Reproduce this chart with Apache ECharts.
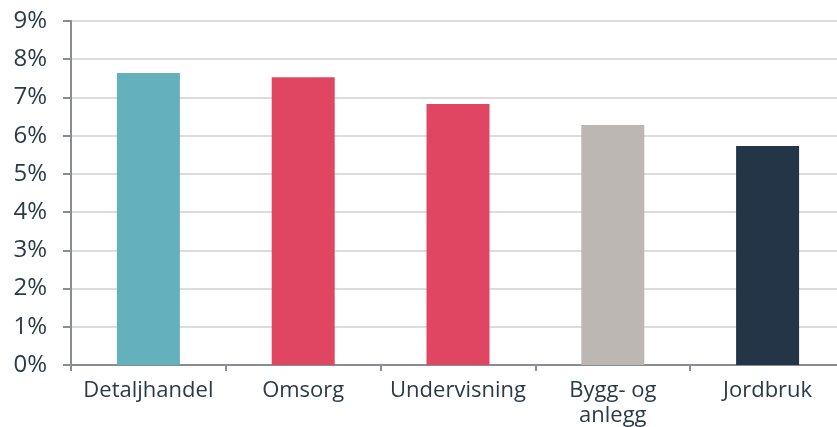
<!DOCTYPE html>
<html><head><meta charset="utf-8">
<script src="https://cdn.jsdelivr.net/npm/echarts@6/dist/echarts.min.js"></script>
<style>html,body{margin:0;padding:0;background:#fff}#c{width:837px;height:427px}</style>
</head><body><div id="c"></div>
<script>
const categories = ['Detaljhandel', 'Omsorg', 'Undervisning', 'Bygg- og\nanlegg', 'Jordbruk'];
const values = [7.64, 7.53, 6.83, 6.28, 5.73];
const colors = ['#64b0bc', '#e04661', '#e04661', '#bcb7b3', '#243547'];
const yTicks = [0, 1, 2, 3, 4, 5, 6, 7, 8, 9];

const chart = echarts.init(document.getElementById('c'));
chart.setOption({
  animation: false,
  grid: { left: 71, right: -8, top: 21, bottom: 62, containLabel: false, outerBoundsMode: 'none' },
  xAxis: {
    type: 'category', data: categories,
    axisLine: { lineStyle: { color: '#8a8d90', width: 2 } },
    axisTick: { show: true, length: 6, lineStyle: { color: '#8a8d90', width: 2 } },
    axisLabel: { color: '#2b3a4a', fontSize: 22, fontFamily: 'Open Sans', margin: 13, lineHeight: 25, interval: 0 }
  },
  yAxis: {
    type: 'value', min: yTicks[0], max: yTicks[yTicks.length - 1], interval: 1,
    axisLine: { show: true, lineStyle: { color: '#8a8d90', width: 2 } },
    axisTick: { show: true, length: 8, lineStyle: { color: '#8a8d90', width: 2 } },
    splitLine: { lineStyle: { color: '#dcdcdc', width: 2 } },
    axisLabel: { color: '#2b3a4a', fontSize: 24, fontFamily: 'Open Sans', margin: 24, formatter: v => v + '%' }
  },
  series: [{
    type: 'bar', barWidth: 63,
    data: values.map((v, i) => ({ value: v, itemStyle: { color: colors[i] } }))
  }]
});
</script></body></html>
